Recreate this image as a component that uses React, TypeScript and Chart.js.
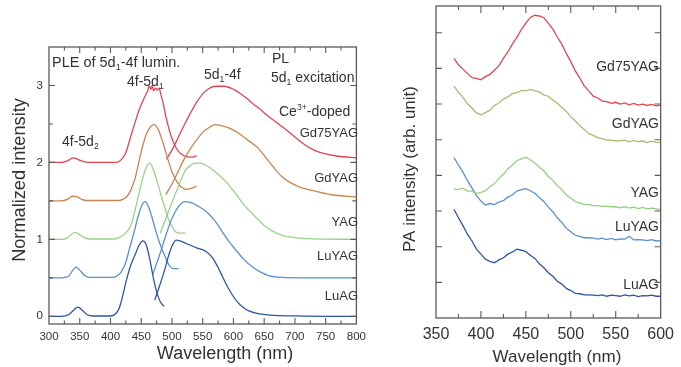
import { useEffect, useRef } from 'react';
import { Chart, registerables } from 'chart.js';
Chart.register(...registerables);

// ---------- Left panel: PLE / PL spectra (normalized, offset) ----------
const leftXTicks = [300, 350, 400, 450, 500, 550, 600, 650, 700, 750, 800];
const leftYTicks = [0, 1, 2, 3];

const luagPleX = [300, 320, 332, 340, 347, 354, 362, 372, 400, 408, 414, 420, 425, 432, 440, 447, 453, 458, 463, 469, 475, 481, 487];
const luagPleY = [0, 0, 0.02, 0.08, 0.12, 0.08, 0.02, 0.004, 0.004, 0.03, 0.1, 0.27, 0.44, 0.64, 0.8, 0.93, 0.98, 0.93, 0.78, 0.53, 0.32, 0.19, 0.13];
const luagPlX = [472, 480, 488, 495, 501, 507, 513, 525, 540, 556, 566, 574, 582, 590, 598, 606, 615, 625, 640, 660, 700, 750, 800];
const luagPlY = [0.21, 0.4, 0.6, 0.8, 0.93, 0.99, 0.98, 0.94, 0.89, 0.84, 0.76, 0.65, 0.52, 0.39, 0.28, 0.19, 0.12, 0.07, 0.035, 0.015, 0.005, 0, 0];

const luyagPleX = [300, 320, 332, 338, 344, 350, 358, 366, 402, 410, 417, 424, 431, 438, 445, 451, 456, 461, 467, 474, 481, 488, 495, 502, 511];
const luyagPleY = [0.5, 0.5, 0.52, 0.59, 0.64, 0.6, 0.53, 0.505, 0.505, 0.52, 0.57, 0.68, 0.88, 1.08, 1.3, 1.44, 1.49, 1.44, 1.3, 1.1, 0.93, 0.79, 0.67, 0.62, 0.62];
const luyagPlX = [469, 480, 492, 500, 510, 521, 530, 545, 556, 570, 580, 592, 604, 617, 631, 645, 657, 680, 710, 800];
const luyagPlY = [0.55, 0.8, 1.1, 1.27, 1.42, 1.49, 1.48, 1.42, 1.36, 1.24, 1.12, 0.98, 0.86, 0.74, 0.64, 0.57, 0.53, 0.505, 0.5, 0.5];

const yagPleX = [300, 320, 330, 337, 343, 350, 358, 366, 405, 413, 420, 427, 434, 440, 446, 452, 458, 464, 470, 476, 482, 488, 494, 500, 506, 512, 522];
const yagPleY = [1.0, 1.0, 1.02, 1.07, 1.09, 1.06, 1.02, 1.005, 1.005, 1.02, 1.05, 1.1, 1.2, 1.38, 1.58, 1.78, 1.93, 1.99, 1.9, 1.75, 1.58, 1.42, 1.27, 1.16, 1.1, 1.08, 1.08];
const yagPlX = [481, 490, 500, 508, 515, 522, 530, 538, 546, 556, 570, 580, 590, 600, 608, 615, 625, 636, 650, 663, 680, 694, 720, 800];
const yagPlY = [1.08, 1.27, 1.48, 1.64, 1.78, 1.9, 1.96, 1.99, 1.99, 1.96, 1.88, 1.81, 1.73, 1.63, 1.55, 1.47, 1.38, 1.29, 1.18, 1.11, 1.05, 1.03, 1.01, 1.0];

const gdyagPleX = [300, 320, 330, 338, 345, 353, 362, 412, 420, 427, 433, 440, 446, 452, 458, 465, 471, 478, 486, 493, 500, 508, 515, 522, 530, 540];
const gdyagPleY = [1.5, 1.5, 1.52, 1.56, 1.555, 1.52, 1.505, 1.505, 1.52, 1.56, 1.64, 1.79, 2.0, 2.2, 2.36, 2.46, 2.49, 2.42, 2.24, 2.05, 1.88, 1.75, 1.68, 1.65, 1.66, 1.69];
const gdyagPlX = [490, 500, 510, 519, 530, 540, 550, 560, 570, 585, 600, 612, 625, 632, 642, 652, 665, 678, 692, 705, 731, 760, 800];
const gdyagPlY = [1.58, 1.72, 1.88, 2.03, 2.18, 2.29, 2.39, 2.45, 2.49, 2.47, 2.42, 2.36, 2.28, 2.24, 2.17, 2.07, 1.94, 1.82, 1.74, 1.69, 1.63, 1.58, 1.55];

const gd75PleX = [300, 320, 330, 339, 347, 356, 364, 410, 418, 425, 432, 440, 447, 455, 460, 463, 466, 468, 470, 473, 476, 479, 482, 486, 490, 495, 500, 506, 512, 519, 528, 535, 540];
const gd75PleY = [2.0, 2.0, 2.02, 2.06, 2.04, 2.01, 2.0, 2.0, 2.04, 2.13, 2.31, 2.52, 2.69, 2.84, 2.92, 2.99, 2.95, 3.0, 2.93, 2.97, 2.94, 2.97, 2.88, 2.76, 2.6, 2.44, 2.31, 2.2, 2.13, 2.09, 2.07, 2.07, 2.09];
const gd75PlX = [491, 500, 510, 519, 530, 540, 550, 560, 572, 585, 600, 612, 622, 632, 642, 652, 665, 680, 700, 716, 731, 750, 770, 800];
const gd75PlY = [2.04, 2.16, 2.32, 2.47, 2.64, 2.78, 2.89, 2.96, 2.99, 2.99, 2.95, 2.89, 2.83, 2.76, 2.7, 2.63, 2.55, 2.46, 2.33, 2.23, 2.16, 2.11, 2.08, 2.06];

// ---------- Right panel: PA spectra ----------
const paWl = [370, 375, 380, 385, 390, 395, 400, 405, 410, 415, 420, 425, 430, 435, 440, 445, 450, 455, 460, 465, 470, 475, 480, 485, 490, 495, 500, 505, 510, 515, 520, 525, 530, 535, 540, 545, 550, 555, 560, 565, 570, 575, 580, 585, 590, 595, 600];
const paGd75 = [7.28, 7.1, 6.98, 6.86, 6.74, 6.72, 6.68, 6.77, 6.83, 6.95, 7.07, 7.28, 7.46, 7.68, 7.87, 8.09, 8.27, 8.43, 8.49, 8.47, 8.42, 8.27, 8.1, 7.88, 7.68, 7.42, 7.19, 6.93, 6.73, 6.51, 6.37, 6.22, 6.17, 6.08, 6.07, 6.02, 6.05, 6.0, 6.03, 5.98, 6.02, 5.97, 6.0, 5.96, 5.99, 5.95, 5.97];
const paGdyag = [6.5, 6.33, 6.19, 6.01, 5.89, 5.75, 5.7, 5.76, 5.83, 5.96, 6.03, 6.14, 6.2, 6.29, 6.32, 6.38, 6.37, 6.41, 6.37, 6.34, 6.26, 6.22, 6.11, 6.03, 5.9, 5.8, 5.64, 5.53, 5.39, 5.29, 5.17, 5.12, 5.05, 5.03, 4.99, 4.99, 4.97, 4.97, 4.99, 4.94, 4.98, 4.94, 4.97, 4.92, 4.96, 4.93, 4.91];
const paYag = [3.62, 3.6, 3.64, 3.56, 3.56, 3.49, 3.52, 3.57, 3.68, 3.77, 3.91, 4.03, 4.18, 4.29, 4.41, 4.46, 4.51, 4.44, 4.35, 4.23, 4.13, 3.97, 3.86, 3.71, 3.6, 3.45, 3.36, 3.26, 3.23, 3.18, 3.18, 3.15, 3.15, 3.13, 3.13, 3.12, 3.12, 3.09, 3.12, 3.08, 3.11, 3.07, 3.1, 3.06, 3.08, 3.06, 3.04];
const paLuyag = [4.5, 4.29, 4.09, 3.85, 3.65, 3.43, 3.28, 3.17, 3.21, 3.18, 3.25, 3.29, 3.39, 3.45, 3.56, 3.6, 3.63, 3.57, 3.5, 3.38, 3.27, 3.11, 2.98, 2.81, 2.68, 2.52, 2.42, 2.32, 2.29, 2.25, 2.25, 2.24, 2.21, 2.24, 2.2, 2.23, 2.19, 2.22, 2.21, 2.29, 2.19, 2.2, 2.19, 2.17, 2.2, 2.16, 2.17];
const paLuag = [3.05, 2.81, 2.59, 2.35, 2.16, 1.93, 1.79, 1.65, 1.59, 1.55, 1.63, 1.69, 1.79, 1.85, 1.93, 1.9, 1.86, 1.76, 1.67, 1.52, 1.41, 1.27, 1.17, 1.03, 0.95, 0.83, 0.77, 0.69, 0.68, 0.65, 0.65, 0.64, 0.63, 0.65, 0.61, 0.64, 0.63, 0.61, 0.65, 0.62, 0.64, 0.6, 0.63, 0.62, 0.64, 0.61, 0.61];

const FONT = '"Liberation Sans", Arial, Helvetica, sans-serif';
const TXT = '#333';
const FRAME = '#5a5a5a';

const C_GD75 = '#e2454f';
const C_GDYAG = '#c98650';
const C_YAG = '#98d486';
const C_LUYAG = '#5a8fd4';
const C_LUAG = '#2f55a4';
const C_PA_GDYAG = '#a3bf72';
const C_PA_YAG = '#92d07e';

type Seg = [string, number]; // 0 normal, 1 subscript, 2 superscript
type Note = { segs: Seg[]; x: number; y: number; size: number; align: 'left' | 'right' | 'center'; rot?: boolean };

const leftNotes: Note[] = [
  { segs: [['PLE of 5d', 0], ['1', 1], ['-4f lumin.', 0]], x: 52, y: 63, size: 14.5, align: 'left' },
  { segs: [['4f-5d', 0], ['1', 1]], x: 127, y: 82, size: 14, align: 'left' },
  { segs: [['4f-5d', 0], ['2', 1]], x: 62, y: 142, size: 14, align: 'left' },
  { segs: [['5d', 0], ['1', 1], ['-4f', 0]], x: 204, y: 75, size: 14, align: 'left' },
  { segs: [['PL', 0]], x: 272, y: 59, size: 14, align: 'left' },
  { segs: [['5d', 0], ['1', 1], [' excitation', 0]], x: 271, y: 78, size: 14, align: 'left' },
  { segs: [['Ce', 0], ['3+', 2], ['-doped', 0]], x: 279, y: 112, size: 14, align: 'left' },
  { segs: [['Gd75YAG', 0]], x: 358, y: 133, size: 13, align: 'right' },
  { segs: [['GdYAG', 0]], x: 358, y: 178, size: 13, align: 'right' },
  { segs: [['YAG', 0]], x: 358, y: 222, size: 13, align: 'right' },
  { segs: [['LuYAG', 0]], x: 358, y: 256, size: 13, align: 'right' },
  { segs: [['LuAG', 0]], x: 358, y: 296, size: 13, align: 'right' },
  { segs: [['Wavelength (nm)', 0]], x: 225, y: 354, size: 18, align: 'center' },
  { segs: [['Normalized intensity', 0]], x: 20, y: 180, size: 18.2, align: 'center', rot: true },
];

const rightNotes: Note[] = [
  { segs: [['Gd75YAG', 0]], x: 287, y: 67, size: 14, align: 'right' },
  { segs: [['GdYAG', 0]], x: 287, y: 124, size: 14, align: 'right' },
  { segs: [['YAG', 0]], x: 287, y: 193, size: 14, align: 'right' },
  { segs: [['LuYAG', 0]], x: 287, y: 227, size: 14, align: 'right' },
  { segs: [['LuAG', 0]], x: 287, y: 285, size: 14, align: 'right' },
  { segs: [['Wavelength (nm)', 0]], x: 185, y: 357, size: 17, align: 'center' },
  { segs: [['PA intensity (arb. unit)', 0]], x: 38, y: 169, size: 17, align: 'center', rot: true },
];

function drawRich(ctx: CanvasRenderingContext2D, n: Note) {
  const { segs, size, align } = n;
  ctx.save();
  ctx.translate(n.x, n.y);
  if (n.rot) ctx.rotate(-Math.PI / 2);
  ctx.fillStyle = TXT;
  ctx.textBaseline = 'middle';
  ctx.textAlign = 'left';
  const fnt = (k: number) => `${k ? size * 0.62 : size}px ${FONT}`;
  const widths = segs.map(([t, k]) => {
    ctx.font = fnt(k);
    return ctx.measureText(t).width;
  });
  const total = widths.reduce((a, b) => a + b, 0);
  let cx = align === 'right' ? -total : align === 'center' ? -total / 2 : 0;
  segs.forEach(([t, k], i) => {
    ctx.font = fnt(k);
    const dy = k === 1 ? size * 0.3 : k === 2 ? -size * 0.33 : 0;
    ctx.fillText(t, cx, dy);
    cx += widths[i];
  });
  ctx.restore();
}

function pts(xs: number[], ys: number[]) {
  return xs.map((x, i) => ({ x, y: ys[i] }));
}

function framePlugin(opts: {
  xStep: number; xMajor: number; yStep: number; yMajor: number;
  xMin: number; xMax: number; yMin: number; yMax: number;
  majLen: number; minLen: number; yMajLen: number; yMinLen: number;
  notes: Note[];
}) {
  return {
    id: 'frameTicks',
    afterDatasetsDraw(chart: any) {
      const { ctx, chartArea: a, scales } = chart;
      const xs = scales.x, ys = scales.y;
      ctx.save();
      ctx.strokeStyle = FRAME;
      ctx.lineWidth = 1.3;
      ctx.strokeRect(a.left, a.top, a.right - a.left, a.bottom - a.top);
      ctx.lineWidth = 1.1;
      ctx.beginPath();
      const nx = Math.round((opts.xMax - opts.xMin) / opts.xStep);
      for (let i = 1; i < nx; i++) {
        const v = opts.xMin + i * opts.xStep;
        const px = xs.getPixelForValue(v);
        const major = Math.abs(v / opts.xMajor - Math.round(v / opts.xMajor)) < 1e-6;
        const len = major ? opts.majLen : opts.minLen;
        ctx.moveTo(px, a.bottom); ctx.lineTo(px, a.bottom - len);
        ctx.moveTo(px, a.top); ctx.lineTo(px, a.top + len);
      }
      const start = Math.ceil(opts.yMin / opts.yStep - 1e-9);
      for (let k = start; k * opts.yStep < opts.yMax - 1e-6; k++) {
        const v = k * opts.yStep;
        if (v <= opts.yMin + 1e-6) continue;
        const py = ys.getPixelForValue(v);
        const major = Math.abs(v / opts.yMajor - Math.round(v / opts.yMajor)) < 1e-6;
        const len = major ? opts.yMajLen : opts.yMinLen;
        ctx.moveTo(a.left, py); ctx.lineTo(a.left + len, py);
        ctx.moveTo(a.right, py); ctx.lineTo(a.right - len, py);
      }
      ctx.stroke();
      ctx.restore();
      opts.notes.forEach((n) => drawRich(ctx, n));
    },
  };
}

function lineDs(data: { x: number; y: number }[], color: string, smooth: boolean) {
  return {
    data,
    borderColor: color,
    backgroundColor: color,
    borderWidth: 1.3,
    pointRadius: 0,
    fill: false,
    tension: smooth ? 0.4 : 0,
    cubicInterpolationMode: smooth ? ('monotone' as const) : ('default' as const),
  };
}

const noGrid = { display: false, drawTicks: false, tickLength: 0 };

export default function App() {
  const leftRef = useRef<HTMLCanvasElement>(null);
  const rightRef = useRef<HTMLCanvasElement>(null);

  useEffect(() => {
    Chart.defaults.font.family = FONT;
    Chart.defaults.color = TXT;

    const left = new Chart(leftRef.current!, {
      type: 'line',
      data: {
        datasets: [
          lineDs(pts(luagPleX, luagPleY), C_LUAG, true),
          lineDs(pts(luagPlX, luagPlY), C_LUAG, true),
          lineDs(pts(luyagPleX, luyagPleY), C_LUYAG, true),
          lineDs(pts(luyagPlX, luyagPlY), C_LUYAG, true),
          lineDs(pts(yagPleX, yagPleY), C_YAG, true),
          lineDs(pts(yagPlX, yagPlY), C_YAG, true),
          lineDs(pts(gdyagPleX, gdyagPleY), C_GDYAG, true),
          lineDs(pts(gdyagPlX, gdyagPlY), C_GDYAG, true),
          lineDs(pts(gd75PleX, gd75PleY), C_GD75, true),
          lineDs(pts(gd75PlX, gd75PlY), C_GD75, true),
        ],
      },
      options: {
        responsive: false,
        animation: false,
        events: [],
        layout: { padding: { left: 0, top: 47, right: 9, bottom: 0 } },
        plugins: { legend: { display: false }, tooltip: { enabled: false } },
        scales: {
          x: {
            type: 'linear',
            min: 300,
            max: 800,
            grid: noGrid,
            border: { display: false },
            afterBuildTicks: (s: any) => { s.ticks = leftXTicks.map((v) => ({ value: v })); },
            afterFit: (s: any) => { s.height = 43; },
            ticks: { autoSkip: false, maxRotation: 0, padding: 6, color: TXT, font: { size: 11.5 } },
            title: { display: false },
          },
          y: {
            type: 'linear',
            min: -0.1,
            max: 3.5,
            grid: noGrid,
            border: { display: false },
            afterBuildTicks: (s: any) => { s.ticks = leftYTicks.map((v) => ({ value: v })); },
            afterFit: (s: any) => { s.width = 49; },
            ticks: { padding: 6, color: TXT, font: { size: 11.5 } },
            title: { display: false },
          },
        },
      },
      plugins: [framePlugin({
        xStep: 25, xMajor: 50, yStep: 0.5, yMajor: 1,
        xMin: 300, xMax: 800, yMin: -0.1, yMax: 3.5,
        majLen: 6, minLen: 3.5, yMajLen: 6, yMinLen: 4,
        notes: leftNotes,
      })],
    } as any);

    const right = new Chart(rightRef.current!, {
      type: 'line',
      data: {
        datasets: [
          lineDs(pts(paWl, paGd75), C_GD75, false),
          lineDs(pts(paWl, paGdyag), C_PA_GDYAG, false),
          lineDs(pts(paWl, paYag), C_PA_YAG, false),
          lineDs(pts(paWl, paLuyag), C_LUYAG, false),
          lineDs(pts(paWl, paLuag), C_LUAG, false),
        ],
      },
      options: {
        responsive: false,
        animation: false,
        events: [],
        layout: { padding: { left: 0, top: 6, right: 13, bottom: 0 } },
        plugins: { legend: { display: false }, tooltip: { enabled: false } },
        scales: {
          x: {
            type: 'linear',
            min: 350,
            max: 600,
            grid: noGrid,
            border: { display: false },
            afterFit: (s: any) => { s.height = 49; },
            ticks: { stepSize: 50, autoSkip: false, maxRotation: 0, padding: 7, color: TXT, font: { size: 16 } },
            title: { display: false },
          },
          y: {
            type: 'linear',
            min: 0,
            max: 8.75,
            grid: noGrid,
            border: { display: false },
            afterFit: (s: any) => { s.width = 64; },
            ticks: { display: false },
            title: { display: false },
          },
        },
      },
      plugins: [framePlugin({
        xStep: 25, xMajor: 50, yStep: 1, yMajor: 1,
        xMin: 350, xMax: 600, yMin: 0, yMax: 8.75,
        majLen: 7, minLen: 4, yMajLen: 6, yMinLen: 6,
        notes: rightNotes,
      })],
    } as any);

    return () => {
      left.destroy();
      right.destroy();
    };
  }, []);

  return (
    <div style={{ position: 'fixed', left: 0, top: 0, width: 681, height: 367, background: '#fff' }}>
      <canvas ref={leftRef} width={372} height={367} style={{ position: 'absolute', left: 0, top: 0, width: 372, height: 367 }} />
      <canvas ref={rightRef} width={309} height={367} style={{ position: 'absolute', left: 372, top: 0, width: 309, height: 367 }} />
    </div>
  );
}
